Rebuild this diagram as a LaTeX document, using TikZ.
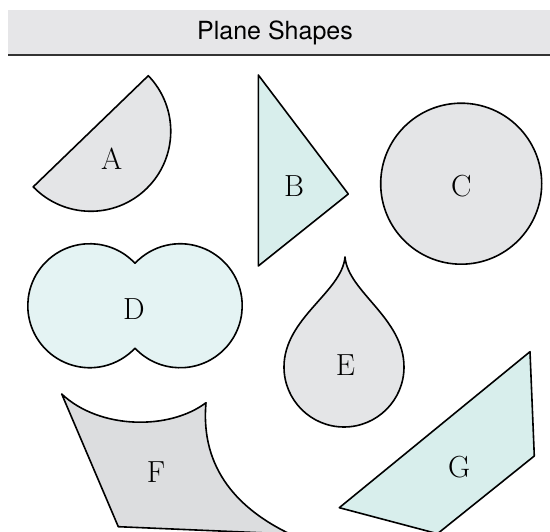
\documentclass[tikz,border=0pt]{standalone}
\usepackage{fontspec}
\newfontfamily\titlefont{TeX Gyre Heros}
\definecolor{hdrgray}{HTML}{E6E6E8}
\definecolor{hdrline}{HTML}{333333}
\definecolor{shgray}{HTML}{E4E5E7}
\definecolor{shgrayd}{HTML}{DCDDDF}
\definecolor{shteal}{HTML}{D8EEEC}
\definecolor{shcyan}{HTML}{E4F3F3}
\tikzset{
  shapebox/.style={draw=black, line width=1.6pt, line join=round},
  lbl/.style={font=\fontsize{30.5}{32}\selectfont, text=black, inner sep=0pt},
}
\begin{document}
\begin{tikzpicture}[x=1pt,y=-1pt]
\useasboundingbox (0,0) rectangle (550,532);
% header
\fill[hdrgray] (8,10) rectangle (550,55);
\draw[hdrline, line width=1.6pt] (8,55) -- (550,55);
\node[font=\titlefont\fontsize{25}{27}\selectfont, inner sep=0pt] (title) at (275,33) {Plane Shapes};
% A
\draw[shapebox, fill=shgray] (148.3,75.7) arc[start angle=-44, end angle=136, radius=80] -- cycle;
\node[lbl] (A) at (111.7,158.3) {A};
% B
\draw[shapebox, fill=shteal] (258.3,75) -- (348.3,194) -- (258.3,266) -- cycle;
\node[lbl] (B) at (294,186) {B};
% C
\draw[shapebox, fill=shgray] (461.2,183.7) circle[radius=80.5];
\node[lbl] (C) at (461.2,186) {C};
% D
\draw[shapebox, fill=shcyan] (135,263.3) arc[start angle=-43.2, end angle=-316.8, radius=62]
   arc[start angle=136.8, end angle=-136.8, radius=62] -- cycle;
\node[lbl] (D) at (134,309) {D};
% E
\draw[shapebox, fill=shgray] (345,257) .. controls (342,292) and (284,318) .. (284,367)
   arc[start angle=180, end angle=0, radius=60]
   .. controls (404,318) and (348,292) .. (345,257) -- cycle;
\node[lbl] (E) at (345.5,365) {E};
% F
\draw[shapebox, fill=shgrayd] (61.7,394) .. controls (100,430) and (170,430) .. (206,402.7)
   .. controls (200,470) and (240,510) .. (290,534) -- (118.3,526.7) -- cycle;
\node[lbl] (F) at (156,471.7) {F};
% G
\draw[shapebox, fill=shteal] (530,351.7) -- (534.3,456) -- (437.5,533.7) -- (339.3,507.7) -- cycle;
\node[lbl] (G) at (459.3,466.7) {G};
\end{tikzpicture}
\end{document}
